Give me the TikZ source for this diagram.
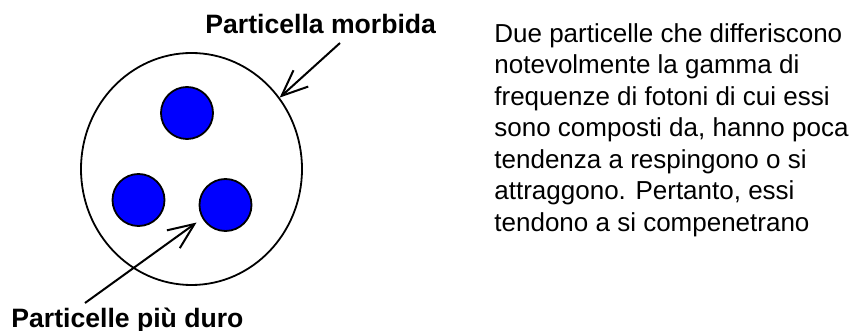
\documentclass[tikz,border=0pt]{standalone}
\usepackage{fontspec}
\setmainfont{Liberation Sans}
\usetikzlibrary{arrows.meta,shapes.geometric}
\definecolor{hardblue}{RGB}{0,0,255}

\begin{document}
\begin{tikzpicture}[
  x=0.5pt, y=-0.5pt,
  soft/.style={draw=black, line width=0.9pt, ellipse, inner sep=0pt,
    minimum width=110.5pt, minimum height=116pt},
  hard/.style={draw=black, line width=0.9pt, fill=hardblue, circle,
    inner sep=0pt, minimum size=26pt},
  label/.style={font=\bfseries\fontsize{13.3}{16}\selectfont, inner sep=0pt},
  note/.style={font=\fontsize{13}{15.75}\selectfont, align=left, inner sep=0pt},
  pointer/.style={-{Straight Barb[length=13pt,width=11pt]}, line width=1pt}
]
\useasboundingbox (0,0) rectangle (852,331);

% soft particle with three hard ones inside
\node[soft] (sp) at (191.5,169) {};
\node[hard] (h1) at (187,113) {};
\node[hard] (h2) at (138.5,200) {};
\node[hard] (h3) at (225.5,205) {};

% labels
\node[label, anchor=base west] (morb) at (205,34) {Particella morbida};
\node[label, anchor=base west] (duro) at (11,328) {Particelle più duro};
\coordinate (morbtail) at (340,43);
\coordinate (durotail) at (85,303);

\draw[pointer] (morbtail) -- (sp.39.4);
\draw[pointer, shorten >=3.5pt] (durotail) -- (h3.210.8);

% explanation
\node[note, anchor=north west] (txt) at (494,23) {%
Due particelle che differiscono\\
notevolmente la gamma di\\
frequenze di fotoni di cui essi\\
sono composti da, hanno poca\\
tendenza a respingono o si\\
attraggono. Pertanto, essi\\
tendono a si compenetrano};
\end{tikzpicture}
\end{document}
